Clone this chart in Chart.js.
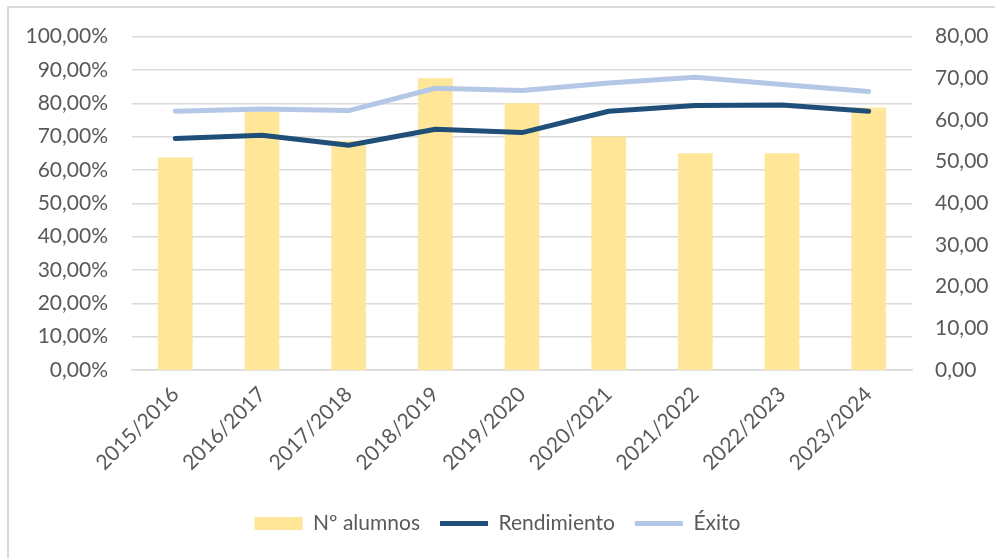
<!DOCTYPE html>
<html>
<head>
<meta charset="utf-8">
<script src="https://cdn.jsdelivr.net/npm/chart.js@4"></script>
<style>
  html, body { margin: 0; padding: 0; background: #fff; }
  body { position: relative; width: 995px; height: 558px; overflow: hidden; }
  #frame { position: absolute; left: 7px; top: 6px; width: 1000px; height: 600px;
           border-left: 2px solid #d9d9d9; border-top: 2px solid #d9d9d9; }
  #chart { position: absolute; left: 0; top: 0; }
</style>
</head>
<body>
<div id="frame"></div>
<canvas id="chart" width="995" height="558"></canvas>
<script>
const cursos = ['2015/2016', '2016/2017', '2017/2018', '2018/2019', '2019/2020',
                '2020/2021', '2021/2022', '2022/2023', '2023/2024'];
const alumnos = [51, 62, 55, 70, 64, 56, 52, 52, 63];
const rendimiento = [69.4, 70.4, 67.4, 72.2, 71.2, 77.6, 79.3, 79.5, 77.6];
const exito = [77.6, 78.3, 77.8, 84.5, 83.8, 86.1, 87.8, 85.6, 83.5];

const textColor = '#595959';
const gridColor = '#d9d9d9';
const font = { family: 'Lato', size: 21 };

const coma = (v, dec) => v.toFixed(dec).replace('.', ',');

const data = {
  labels: cursos,
  datasets: [{
    type: 'bar',
    label: 'Nº alumnos',
    data: alumnos,
    yAxisID: 'y1',
    backgroundColor: '#ffe699',
    barPercentage: 0.4,
    categoryPercentage: 1,
    pointStyle: 'rect',
    order: 3,
  }, {
    type: 'line',
    label: 'Rendimiento',
    data: rendimiento,
    yAxisID: 'y',
    borderColor: '#1f4e79',
    backgroundColor: '#1f4e79',
    borderWidth: 5,
    borderCapStyle: 'round',
    borderJoinStyle: 'round',
    pointRadius: 0,
    pointStyle: 'line',
    order: 1,
  }, {
    type: 'line',
    label: 'Éxito',
    data: exito,
    yAxisID: 'y',
    borderColor: '#b4c7e7',
    backgroundColor: '#b4c7e7',
    borderWidth: 5,
    borderCapStyle: 'round',
    borderJoinStyle: 'round',
    pointRadius: 0,
    pointStyle: 'line',
    order: 2,
  }],
};

const options = {
  responsive: false,
  animation: false,
  layout: { padding: { top: 36, left: 0, right: 0, bottom: 14 } },
  scales: {
    x: {
      grid: { display: false, drawTicks: false },
      border: { color: gridColor, width: 1.5 },
      ticks: { color: textColor, font: font, minRotation: 45, maxRotation: 45, padding: 12 },
      afterFit: (s) => { s.height = 123; },
    },
    y: {
      position: 'left',
      min: 0,
      max: 100,
      grid: { color: gridColor, lineWidth: 1.5, drawTicks: false },
      border: { display: false },
      ticks: { stepSize: 10, color: textColor, font: font, padding: 24,
               callback: (v) => coma(v, 2) + '%' },
      afterFit: (s) => { s.width = 132; },
    },
    y1: {
      position: 'right',
      min: 0,
      max: 80,
      grid: { display: false, drawTicks: false },
      border: { display: false },
      ticks: { stepSize: 10, color: textColor, font: font, padding: 23,
               callback: (v) => coma(v, 2) },
      afterFit: (s) => { s.width = 83; },
    },
  },
  plugins: {
    legend: {
      position: 'bottom',
      labels: {
        usePointStyle: true,
        pointStyleWidth: 48,
        boxHeight: 13,
        padding: 20,
        color: textColor,
        font: font,
        // keep dataset order, not draw order
        sort: (a, b) => a.datasetIndex - b.datasetIndex,
      },
    },
    tooltip: { enabled: false },
  },
};

const ctx = document.getElementById('chart').getContext('2d');
const chart = new Chart(ctx, { data: data, options: options });
</script>
</body>
</html>
